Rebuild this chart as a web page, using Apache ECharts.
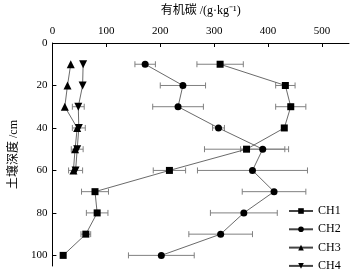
<!DOCTYPE html>
<html>
<head>
<meta charset="utf-8">
<script src="https://cdn.jsdelivr.net/npm/echarts@6/dist/echarts.min.js"></script>
<style>
  html, body { margin: 0; padding: 0; background: #fff; }
  #chart { width: 356px; height: 277px; }
</style>
</head>
<body>
<div id="chart"></div>
<script>
// depth of each sample (cm)
var depths = [10, 20, 30, 40, 50, 60, 70, 80, 90, 100]
var shallowDepths = [10, 20, 30, 40, 50, 60]

// organic carbon (g/kg) and error (half width)
var ch1 = [311, 432, 442, 430, 360, 217, 79, 83, 62, 20]
var ch1Err = [43, 18, 28, 0, 78, 30, 25, 20, 9, 0]
var ch2 = [172, 242, 233, 308, 390, 371, 411, 355, 312, 202]
var ch2Err = [19, 42, 47, 11, 41, 102, 59, 62, 59, 61]
var ch3 = [34, 28, 23, 46, 42, 39]
var ch3Err = [0, 0, 0, 0, 0, 0]
var ch4 = [57, 56, 48, 49, 46, 43]
var ch4Err = [0, 0, 11, 12, 11, 13]

var xTicks = [0, 100, 200, 300, 400, 500]
var yTicks = [0, 20, 40, 60, 80, 100]

var serif = 'Liberation Serif, Noto Sans CJK SC'

function pts(vals, ds) {
  return vals.map(function (v, i) { return [v, ds[i]] })
}
function errPts(vals, errs, ds) {
  return vals.map(function (v, i) { return [v, ds[i], errs[i]] })
}

function errRender(params, api) {
  var e = api.value(2)
  if (!e) return null
  var y = api.value(1)
  var a = api.coord([api.value(0) - e, y])
  var b = api.coord([api.value(0) + e, y])
  var c = 3
  var st = { stroke: '#808080', lineWidth: 1 }
  return {
    type: 'group',
    children: [
      { type: 'line', shape: { x1: a[0], y1: a[1], x2: b[0], y2: b[1] }, style: st },
      { type: 'line', shape: { x1: a[0], y1: a[1] - c, x2: a[0], y2: a[1] + c }, style: st },
      { type: 'line', shape: { x1: b[0], y1: b[1] - c, x2: b[0], y2: b[1] + c }, style: st }
    ]
  }
}

function lineSeries(name, vals, ds, symbol, size) {
  return {
    name: name,
    type: 'line',
    data: pts(vals, ds),
    symbol: symbol,
    symbolSize: size,
    z: 3,
    lineStyle: { color: '#444', width: 0.8 },
    itemStyle: { color: '#000' },
    emphasis: { disabled: true }
  }
}

function errSeries(vals, errs, ds) {
  return {
    type: 'custom',
    renderItem: errRender,
    data: errPts(vals, errs, ds),
    encode: { x: 0, y: 1 },
    z: 2,
    silent: true
  }
}

var myChart = echarts.init(document.getElementById('chart'))
var option = {
  animation: false,
  backgroundColor: '#fff',
  textStyle: { fontFamily: serif },
  grid: { left: 41, top: 39, width: 308, height: 227 },
  legend: {
    orient: 'vertical',
    left: 288,
    top: 205,
    padding: 0,
    height: 80,
    itemWidth: 24,
    itemHeight: 7,
    itemGap: 6.3,
    textStyle: { fontFamily: serif, fontSize: 12, lineHeight: 10, color: '#000' },
    data: ['CH1', 'CH2', 'CH3', 'CH4']
  },
  xAxis: {
    type: 'value',
    position: 'top',
    min: 0,
    max: 550,
    name: '有机碳 /(g·kg⁻¹)',
    nameLocation: 'middle',
    nameGap: 26,
    nameTextStyle: { fontFamily: serif, fontSize: 12, color: '#000' },
    splitLine: { show: false },
    axisLine: { lineStyle: { color: '#000', width: 1 } },
    axisTick: { inside: true, length: 4, customValues: xTicks, lineStyle: { color: '#000' } },
    axisLabel: { customValues: xTicks, fontSize: 11, color: '#000', margin: 6, fontFamily: serif }
  },
  yAxis: {
    type: 'value',
    inverse: true,
    min: 0,
    max: 105,
    name: '土壤深度 /cm',
    nameLocation: 'middle',
    nameGap: 29,
    nameRotate: 90,
    nameTextStyle: { fontFamily: serif, fontSize: 12, color: '#000' },
    splitLine: { show: false },
    axisLine: { lineStyle: { color: '#000', width: 1 } },
    axisTick: { inside: true, length: 4, customValues: yTicks, lineStyle: { color: '#000' } },
    axisLabel: { customValues: yTicks, fontSize: 11, color: '#000', margin: 5, fontFamily: serif }
  },
  series: [
    errSeries(ch1, ch1Err, depths),
    errSeries(ch2, ch2Err, depths),
    errSeries(ch3, ch3Err, shallowDepths),
    errSeries(ch4, ch4Err, shallowDepths),
    lineSeries('CH1', ch1, depths, 'rect', 7),
    lineSeries('CH2', ch2, depths, 'circle', 7),
    lineSeries('CH3', ch3, shallowDepths, 'triangle', 8),
    lineSeries('CH4', ch4, shallowDepths, 'path://M0,0 L10,0 L5,9 Z', 8)
  ]
}
myChart.setOption(option)
</script>
</body>
</html>
